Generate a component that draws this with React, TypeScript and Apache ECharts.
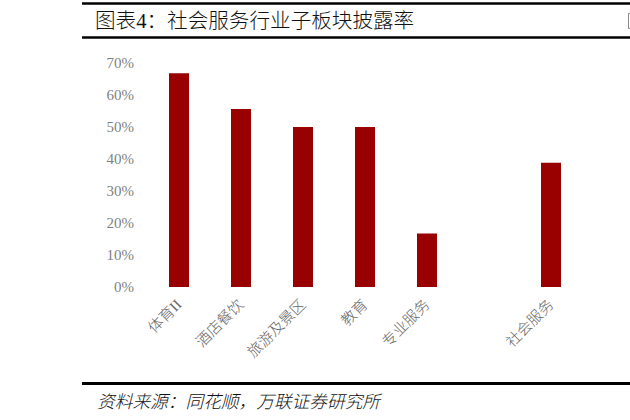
import React, { useEffect, useRef } from "react";
import * as echarts from "echarts";

// Sub-sector disclosure rates (%) within social services; the blank slot separates the aggregate bar
const categories = ["体育II", "酒店餐饮", "旅游及景区", "教育", "专业服务", "", "社会服务"];
const disclosureRates: (number | null)[] = [66.8, 55.6, 50.0, 50.0, 16.7, null, 38.8];
const yMin = 0;
const yMax = 70;
const yStep = 10;

const titleText = "图表4：社会服务行业子板块披露率";
const sourceText = "资料来源：同花顺，万联证券研究所";

const BAR_COLOR = "#990000";
const CJK_SERIF = '"Liberation Serif", "Noto Sans CJK SC", serif';

export default function App() {
  const ref = useRef<HTMLDivElement>(null);

  useEffect(() => {
    if (!ref.current) return;
    const chart = echarts.init(ref.current, undefined, { renderer: "svg" });
    chart.setOption({
      animation: false,
      backgroundColor: "#ffffff",
      grid: { left: 148, right: 48, top: 63, bottom: 133, containLabel: false },
      xAxis: {
        type: "category",
        data: categories,
        axisLine: { show: false },
        axisTick: { show: false },
        splitLine: { show: false },
        axisLabel: {
          interval: 0,
          rotate: 45,
          margin: 15,
          color: "#666666",
          fontSize: 15,
          fontWeight: 300,
          fontFamily: CJK_SERIF,
        },
      },
      yAxis: {
        type: "value",
        min: yMin,
        max: yMax,
        interval: yStep,
        axisLine: { show: false },
        axisTick: { show: false },
        splitLine: { show: false },
        axisLabel: {
          formatter: "{value}%",
          margin: 14,
          color: "#7f7f7f",
          fontSize: 15,
          fontFamily: CJK_SERIF,
        },
      },
      series: [
        {
          type: "bar",
          data: disclosureRates,
          barWidth: 20,
          itemStyle: { color: BAR_COLOR },
        },
      ],
      graphic: [
        {
          type: "line",
          shape: { x1: 82, y1: 3.5, x2: 630, y2: 3.5 },
          style: { stroke: "#000", lineWidth: 2.5 },
        },
        {
          type: "text",
          x: 95,
          y: 21,
          style: {
            text: titleText,
            fill: "#111",
            font: `300 20.6px ${CJK_SERIF}`,
            textVerticalAlign: "middle",
          },
        },
        {
          type: "line",
          shape: { x1: 82, y1: 37.5, x2: 630, y2: 37.5 },
          style: { stroke: "#000", lineWidth: 2.5 },
        },
        {
          type: "rect",
          shape: { x: 628.5, y: 13.5, width: 3, height: 15 },
          style: { fill: "#fff", stroke: "#888", lineWidth: 1 },
        },
        {
          type: "line",
          shape: { x1: 82, y1: 383.5, x2: 630, y2: 383.5 },
          style: { stroke: "#000", lineWidth: 3 },
        },
        {
          type: "text",
          x: 97,
          y: 402,
          style: {
            text: sourceText,
            fill: "#111",
            font: `italic 300 17.7px ${CJK_SERIF}`,
            textVerticalAlign: "middle",
          },
        },
      ],
    });
    return () => chart.dispose();
  }, []);

  return (
    <div
      ref={ref}
      style={{ position: "absolute", left: 0, top: 0, width: 630, height: 420 }}
    />
  );
}
